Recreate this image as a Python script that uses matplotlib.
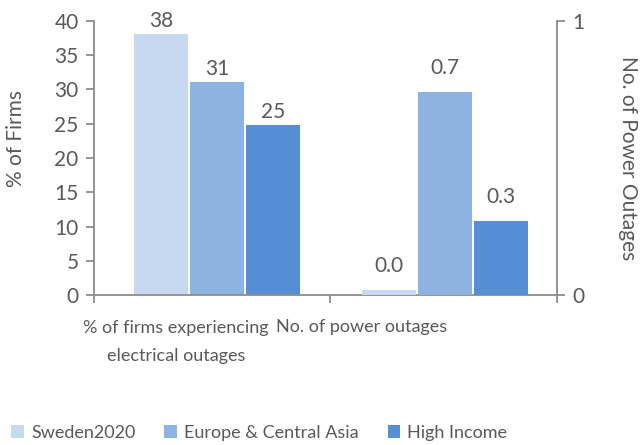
import numpy as np
import matplotlib
matplotlib.use('Agg')
import matplotlib.pyplot as plt
import matplotlib.transforms as mtransforms

plt.rcParams['font.family'] = ['Lato', 'DejaVu Sans']

series = ['Sweden2020', 'Europe & Central Asia', 'High Income']
colors = ['#C6D9F0', '#8DB3E2', '#558ED5']
categories = ['% of firms experiencing\nelectrical outages', 'No. of power outages']
pct_firms = [38.1, 31.1, 24.8]        # left axis
n_outages = [0.02, 0.74, 0.27]        # right axis

grey = '#595959'
axis_grey = '#8C8C8C'

fig = plt.figure(figsize=(6.41, 4.45), dpi=100)
ax = fig.add_axes([0.1466, 0.337, 0.7224, 0.616])
ax2 = ax.twinx()

xmax = 1.96
x = np.array([0.52, 1.485])
width = 0.229
offsets = [-0.237, 0.0, 0.237]

for i in range(3):
    b1 = ax.bar(x[0] + offsets[i], pct_firms[i], width, color=colors[i], label=series[i])
    ax.bar_label(b1, labels=['%.0f' % pct_firms[i]], padding=2, color=grey, fontsize=15)
    b2 = ax2.bar(x[1] + offsets[i], n_outages[i], width, color=colors[i])
    ax2.bar_label(b2, labels=['%.1f' % n_outages[i]], padding=10, color=grey, fontsize=15)

ax.set_xlim(0, xmax)
ax.set_ylim(0, 40)
ax2.set_ylim(0, 1)
ax.set_yticks(np.arange(0, 41, 5))
ax2.set_yticks([0, 1])
ax.set_xticks([0, 1, xmax])
ax.set_xticklabels([])

for a in (ax, ax2):
    for s in a.spines.values():
        s.set_visible(False)
    a.tick_params(colors=axis_grey, labelcolor=grey, labelsize=15, length=6, width=1.3, pad=5)
ax.spines['left'].set_visible(True)
ax.spines['bottom'].set_visible(True)
ax2.spines['right'].set_visible(True)
for s in (ax.spines['left'], ax.spines['bottom'], ax2.spines['right']):
    s.set_color(axis_grey)
    s.set_linewidth(1.3)

ax.set_ylabel('% of Firms', color=grey, fontsize=15)
ax.yaxis.set_label_coords(-0.147, 0.57)
ax2.set_ylabel('No. of Power Outages', color=grey, fontsize=15, rotation=-90, va='center')
ax2.yaxis.set_label_coords(1.153, 0.5)

trans = mtransforms.blended_transform_factory(ax.transAxes, fig.transFigure)
ax.text(0.177, 0.231, categories[0], transform=trans, ha='center', va='center',
        color=grey, fontsize=13, linespacing=1.9)
ax.text(0.577, 0.265, categories[1], transform=trans, ha='center', va='center',
        color=grey, fontsize=13)

fig.legend(loc='center left', bbox_to_anchor=(-0.008, 0.027), ncol=3, frameon=False,
           fontsize=13, labelcolor=grey, handlelength=0.7, handleheight=0.7,
           handletextpad=0.4, columnspacing=1.6)

fig.savefig('out.png', dpi=100)
